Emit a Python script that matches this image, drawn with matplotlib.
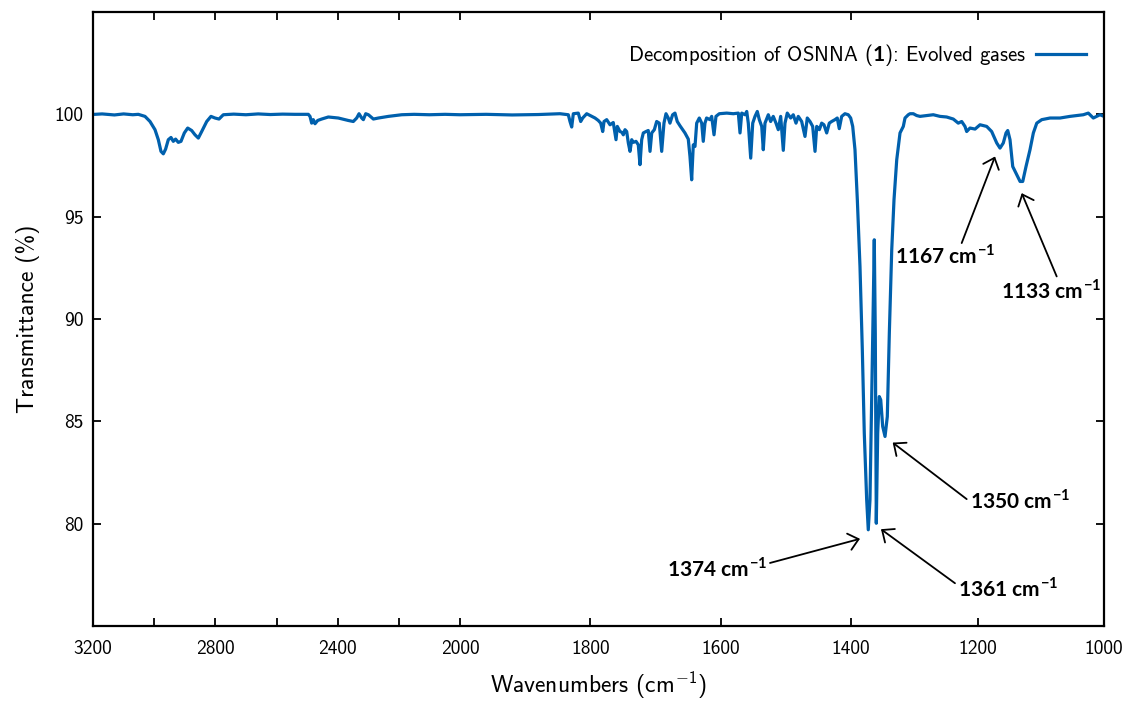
import numpy as np
import matplotlib
matplotlib.use("Agg")
import matplotlib.pyplot as plt

# ---------------- data ----------------
WAVENUMBER = [
    3200, 3193.5, 3170, 3130, 3100, 3070, 3051.9, 3030.0, 3013.6, 2997.3, 2986.4,
    2977.7, 2970.1, 2962.6, 2953.8, 2945.0, 2937.4, 2929.9, 2921.1, 2912.3, 2901.4,
    2890.4, 2877.4, 2866.5, 2855.6, 2844.6, 2828.2, 2814.2, 2801.1, 2788.0, 2773.9,
    2740, 2700, 2660, 2620, 2580, 2540, 2496.0, 2490.4, 2485.0, 2479.6, 2474.1,
    2465.3, 2452.2, 2430.5, 2397.9, 2365.2, 2348.9, 2337.8, 2330.2, 2321.4, 2316.0,
    2308.3, 2299.5, 2283.2, 2266.8, 2234.1, 2190.6, 2150, 2100, 2049, 2000, 1960,
    1920, 1880, 1846.6, 1833.8, 1831.2, 1828.6, 1826.1, 1818.5, 1814.8, 1811.7,
    1805.6, 1797.9, 1792.8, 1787.8, 1784.1, 1781.0, 1779.0, 1774.9, 1769.8, 1764.8,
    1760.6, 1758.6, 1754.5, 1751.4, 1749.4, 1746.8, 1744.2, 1741.7, 1739.1, 1736.5,
    1734.1, 1729.9, 1726.4, 1723.8, 1721.2, 1718.7, 1714.6, 1711.1, 1708.4, 1705.8,
    1701.8, 1698.2, 1694.2, 1690.5, 1687.0, 1683.9, 1680.4, 1677.8, 1673.7, 1670.1,
    1666.6, 1662.4, 1658.3, 1654.8, 1649.7, 1647.1, 1644.5, 1642.0, 1639.4, 1636.8,
    1632.8, 1629.1, 1626.7, 1624.1, 1621.6, 1616.4, 1613.8, 1610.2, 1607.2, 1602.1,
    1590.7, 1580.6, 1572.9, 1570.3, 1567.7, 1562.6, 1560.0, 1557.6, 1553.9, 1550.8,
    1547.3, 1543.8, 1540.7, 1537.0, 1534.6, 1532.0, 1526.9, 1523.3, 1519.3, 1515.1,
    1511.6, 1507.9, 1503.9, 1501.3, 1497.8, 1492.6, 1488.6, 1484.4, 1480.9, 1475.7,
    1470.6, 1467.1, 1462.9, 1458.8, 1455.2, 1452.6, 1448.6, 1445.0, 1441.5, 1437.3,
    1433.3, 1429.7, 1424.6, 1421.1, 1418.0, 1414.3, 1409.3, 1404.2, 1400.5, 1397.3,
    1393.7, 1390.0, 1385.8, 1382.1, 1379.0, 1375.2, 1372.7, 1370.0, 1367.3, 1364.7,
    1363.2, 1361.6, 1360.0, 1357.8, 1355.3, 1353.0, 1349.9, 1346.2, 1342.6, 1339.4,
    1335.6, 1332.0, 1327.7, 1322.5, 1317.3, 1314.6, 1309.4, 1306.7, 1301.5, 1296.1,
    1290.9, 1280.3, 1269.9, 1259.3, 1248.8, 1238.3, 1230.4, 1225.0, 1219.8, 1217.1,
    1211.9, 1203.9, 1196.0, 1185.5, 1177.6, 1169.6, 1164.4, 1159.2, 1154.9, 1152.2,
    1148.6, 1144.3, 1138.0, 1132.7, 1128.5, 1123.3, 1117.0, 1111.7, 1106.3, 1098.4,
    1085.3, 1069.5, 1053.7, 1043.2, 1032.7, 1024.8, 1016.9, 1006.4, 1000.0,
]
TRANSMITTANCE = [
    100.00, 100.00, 100.02, 99.97, 100.02, 99.98, 100.00, 99.90, 99.65, 99.25, 98.76,
    98.19, 98.07, 98.30, 98.76, 98.87, 98.68, 98.79, 98.63, 98.68, 99.09,
    99.33, 99.21, 99.00, 98.84, 99.16, 99.65, 99.90, 99.82, 99.77, 99.98,
    100.01, 99.98, 100.02, 99.99, 100.01, 100.00, 100.00, 99.90, 99.57, 99.74, 99.54,
    99.70, 99.77, 99.87, 99.82, 99.70, 99.65, 99.82, 100.03, 99.82, 99.74,
    100.03, 99.98, 99.77, 99.82, 99.90, 99.98, 100.00, 99.98, 100.00, 99.98, 100.00,
    99.97, 99.99, 100.03, 99.98, 99.65, 99.38, 100.03, 100.06, 99.65, 99.82,
    100.03, 99.90, 99.82, 99.70, 99.57, 99.16, 99.65, 99.74, 99.49, 99.60,
    98.76, 99.41, 99.16, 99.12, 99.00, 99.25, 99.16, 98.60, 98.19, 98.76,
    98.63, 98.68, 98.51, 97.54, 98.76, 99.09, 99.16, 99.21, 98.19, 99.09,
    99.25, 99.65, 99.57, 98.19, 99.57, 100.03, 99.82, 99.57, 99.98, 100.06,
    99.65, 99.44, 99.25, 99.09, 98.79, 97.94, 96.80, 98.51, 98.43, 99.57,
    99.82, 99.57, 98.68, 99.57, 99.82, 99.74, 99.90, 99.00, 99.90, 100.03,
    100.06, 100.03, 100.06, 99.09, 100.06, 99.98, 100.14, 99.57, 97.86, 99.57,
    99.90, 100.14, 99.74, 99.41, 98.27, 99.57, 99.98, 99.65, 99.90, 99.57,
    99.25, 99.90, 98.24, 99.57, 100.06, 99.82, 99.98, 99.57, 99.90, 99.65,
    98.92, 99.82, 99.65, 99.41, 98.19, 99.41, 99.25, 99.57, 99.49, 99.09,
    99.57, 99.65, 99.74, 99.82, 99.30, 99.90, 100.03, 99.98, 99.82, 99.41,
    98.27, 95.83, 92.57, 88.49, 84.42, 81.16, 79.70, 81.16, 86.05, 90.94,
    93.87, 89.31, 80.02, 84.42, 86.21, 86.05, 84.75, 84.26, 85.23, 89.31,
    93.38, 95.83, 97.78, 99.09, 99.41, 99.82, 99.98, 100.03, 100.03, 99.94,
    99.90, 99.94, 99.98, 99.90, 99.87, 99.77, 99.57, 99.65, 99.41, 99.16,
    99.33, 99.28, 99.49, 99.41, 99.16, 98.60, 98.35, 98.60, 99.09, 99.21,
    98.76, 97.45, 97.05, 96.72, 96.72, 97.45, 98.27, 99.09, 99.57, 99.74,
    99.82, 99.82, 99.90, 99.94, 99.98, 100.06, 99.82, 99.98, 99.90,
]

SERIES_LABEL = r"Decomposition of OSNNA ($\mathbf{1}$): Evolved gases"

X_MAJOR_TICKS = [3200, 2800, 2400, 2000, 1800, 1600, 1400, 1200, 1000]
X_MINOR_TICKS = [3000, 2600, 2200]
Y_TICKS = [80, 85, 90, 95, 100]

# peak annotations: label, text anchor (wn, T), arrow tail, arrow tip
ANNOT_LABELS = [r"1374 cm$^{\mathbf{-1}}$", r"1361 cm$^{\mathbf{-1}}$",
                r"1350 cm$^{\mathbf{-1}}$", r"1167 cm$^{\mathbf{-1}}$",
                r"1133 cm$^{\mathbf{-1}}$"]
ANNOT_TEXT = [(1605.6, 77.41), (1151.3, 76.44), (1132.3, 80.76),
              (1250.6, 92.73), (1084.1, 91.02)]
ANNOT_TAIL = [(1524.3, 78.08), (1235.6, 77.09), (1217.1, 81.20),
              (1225.0, 93.71), (1074.8, 92.08)]
ANNOT_TIP = [(1385.8, 79.26), (1352.6, 79.73), (1334.1, 83.96),
             (1172.3, 97.94), (1130.1, 96.15)]

# ---------------- broken (piecewise-linear) x scale ----------------
WN_KNOTS = [1000.0, 1400.0, 2000.0, 3200.0]
U_KNOTS = [0.0, 253.0, 644.0, 1011.0]


def _pw(x, xp, fp):
    x = np.asarray(x, dtype=float)
    out = np.interp(x, xp, fp)
    s0 = (fp[1] - fp[0]) / (xp[1] - xp[0])
    s1 = (fp[-1] - fp[-2]) / (xp[-1] - xp[-2])
    out = np.where(x < xp[0], fp[0] + (x - xp[0]) * s0, out)
    out = np.where(x > xp[-1], fp[-1] + (x - xp[-1]) * s1, out)
    return out


def fwd(x):
    return _pw(x, WN_KNOTS, U_KNOTS)


def inv(u):
    return _pw(u, U_KNOTS, WN_KNOTS)


# ---------------- style ----------------
plt.rcParams["font.family"] = "cmss10"
plt.rcParams["mathtext.fontset"] = "custom"
plt.rcParams["mathtext.rm"] = "cmss10"
plt.rcParams["mathtext.it"] = "cmss10"
plt.rcParams["mathtext.bf"] = "Lato:bold"
plt.rcParams["axes.unicode_minus"] = False

LINE_COLOR = "#0060ad"

fig = plt.figure(figsize=(11.27, 7.04), dpi=100)
ax = fig.add_axes([93 / 1127, 1 - 626 / 704, 1011 / 1127, 614 / 704])
ax.set_xscale("function", functions=(fwd, inv))

ax.plot(WAVENUMBER, TRANSMITTANCE, color=LINE_COLOR, lw=2.3,
        solid_joinstyle="round", label=SERIES_LABEL)

ax.set_xlim(3200, 1000)
ax.set_ylim(75, 105)
ax.set_xticks(X_MAJOR_TICKS)
ax.set_xticklabels([str(t) for t in X_MAJOR_TICKS])
ax.set_xticks(X_MINOR_TICKS, minor=True)
ax.set_yticks(Y_TICKS)
ax.set_yticklabels([str(t) for t in Y_TICKS])

ax.tick_params(which="both", direction="in", top=True, right=True,
               length=6, width=1.3, labelsize=14, colors="black")
ax.tick_params(axis="x", pad=10)
ax.tick_params(axis="y", pad=7)
for s in ax.spines.values():
    s.set_linewidth(1.6)

ax.set_xlabel(r"Wavenumbers (cm$^{-1}$)", fontsize=17, labelpad=8)
ax.set_ylabel("Transmittance (%)", fontsize=17, labelpad=10)

leg = ax.legend(loc="center right", bbox_to_anchor=(0.9822, 0.930),
                frameon=False, markerfirst=False, fontsize=15,
                handlelength=2.4, handletextpad=0.45, borderpad=0,
                borderaxespad=0)

for lab, tpos, tail, tip in zip(ANNOT_LABELS, ANNOT_TEXT, ANNOT_TAIL, ANNOT_TIP):
    ax.text(tpos[0], tpos[1], lab, ha="center", va="baseline",
            fontsize=15, fontfamily="Lato", fontweight="bold")
    ax.annotate("", xy=tip, xytext=tail,
                arrowprops=dict(arrowstyle="->,head_length=0.35,head_width=0.3",
                                lw=1.3, color="black", shrinkA=0, shrinkB=0,
                                mutation_scale=20))

fig.savefig("out.png", dpi=100)
